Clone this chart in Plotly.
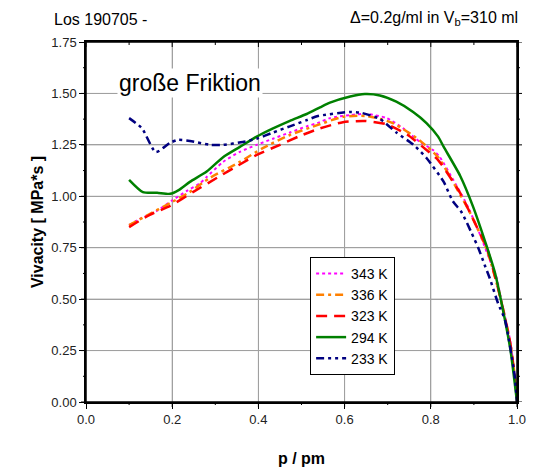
import plotly.graph_objects as go

# 343 K
x_343 = [0.10, 0.125, 0.165, 0.20, 0.234, 0.265, 0.28, 0.318, 0.357, 0.396, 0.434, 0.473, 0.512,
         0.538, 0.566, 0.613, 0.652, 0.698, 0.736, 0.775, 0.805, 0.821, 0.852, 0.884, 0.91, 0.937,
         0.953, 0.96, 0.984, 0.995, 1.0]
y_343 = [0.86, 0.89, 0.93, 0.98, 1.026, 1.064, 1.094, 1.167, 1.216, 1.25, 1.28, 1.31, 1.34,
         1.357, 1.38, 1.395, 1.40, 1.38, 1.33, 1.264, 1.225, 1.19, 1.08, 0.958, 0.836, 0.69,
         0.603, 0.53, 0.30, 0.12, 0.0]

# 336 K
x_336 = [0.10, 0.14, 0.195, 0.24, 0.288, 0.357, 0.41, 0.473, 0.538, 0.596, 0.652, 0.712, 0.775,
         0.817, 0.845, 0.891, 0.93, 0.96, 0.984, 0.995, 1.0]
y_336 = [0.86, 0.905, 0.967, 1.02, 1.09, 1.167, 1.234, 1.298, 1.347, 1.386, 1.39, 1.356, 1.27,
         1.19, 1.094, 0.92, 0.74, 0.52, 0.29, 0.12, 0.0]

# 323 K
x_323 = [0.10, 0.148, 0.195, 0.248, 0.304, 0.353, 0.40, 0.45, 0.496, 0.543, 0.596, 0.647, 0.698,
         0.745, 0.79, 0.817, 0.868, 0.907, 0.93, 0.96, 0.984, 0.995, 1.0]
y_323 = [0.85, 0.91, 0.953, 1.02, 1.09, 1.15, 1.205, 1.25, 1.293, 1.33, 1.36, 1.366, 1.35,
         1.30, 1.225, 1.176, 1.016, 0.85, 0.75, 0.52, 0.29, 0.12, 0.0]

# 294 K
x_294 = [0.10, 0.132, 0.165, 0.195, 0.215, 0.241, 0.28, 0.318, 0.357, 0.396, 0.434, 0.473, 0.512,
         0.543, 0.566, 0.613, 0.647, 0.682, 0.72, 0.759, 0.79, 0.817, 0.83, 0.868, 0.898, 0.93,
         0.949, 0.97, 0.985, 1.0]
y_294 = [1.08, 1.02, 1.017, 1.012, 1.03, 1.07, 1.12, 1.19, 1.24, 1.29, 1.33, 1.367, 1.40,
         1.432, 1.455, 1.485, 1.497, 1.49, 1.46, 1.41, 1.356, 1.29, 1.24, 1.10, 0.95, 0.755,
         0.627, 0.42, 0.25, 0.0]

# 233 K
x_233 = [0.10, 0.13, 0.162, 0.195, 0.213, 0.241, 0.288, 0.318, 0.364, 0.396, 0.434, 0.473, 0.512,
         0.538, 0.613, 0.64, 0.682, 0.72, 0.76, 0.79, 0.83, 0.85, 0.872, 0.895, 0.91, 0.925,
         0.937, 0.956, 0.972, 0.984, 0.995, 1.0]
y_233 = [1.38, 1.33, 1.215, 1.26, 1.274, 1.269, 1.25, 1.25, 1.264, 1.28, 1.31, 1.34, 1.37,
         1.39, 1.41, 1.405, 1.376, 1.31, 1.25, 1.186, 1.07, 0.98, 0.92, 0.82, 0.75, 0.666,
         0.60, 0.48, 0.40, 0.27, 0.12, 0.0]

series = [
    ("343 K", x_343, y_343, "#ff00ff", "dot", 2),
    ("336 K", x_336, y_336, "#ff8000", "8px,4px,3px,4px", 2.5),
    ("323 K", x_323, y_323, "#ff0000", "11px,7px", 2.5),
    ("294 K", x_294, y_294, "#008000", "solid", 2.5),
    ("233 K", x_233, y_233, "#000080", "8px,4px,3px,4px,3px,4px", 2.5),
]

x_major = [0.0, 0.2, 0.4, 0.6, 0.8, 1.0]
x_minor = [0.1, 0.3, 0.5, 0.7, 0.9]
y_major = [0.0, 0.25, 0.5, 0.75, 1.0, 1.25, 1.5, 1.75]
y_minor = [0.125, 0.375, 0.625, 0.875, 1.125, 1.375, 1.625]

fig = go.Figure()
for name, xs, ys, color, dash, width in series:
    fig.add_trace(go.Scatter(x=xs, y=ys, mode="lines", name=name,
                             line=dict(color=color, dash=dash, width=width,
                                       shape="spline", smoothing=0.6)))

axis_common = dict(
    showline=True, linecolor="black", linewidth=1.5, mirror=True,
    ticks="outside", ticklen=5, tickcolor="black", tickwidth=1,
    showgrid=True, gridcolor="#a0a0a0", gridwidth=1,
    zeroline=False, tickfont=dict(family="Arial", size=13, color="#222"),
)

fig.update_xaxes(range=[0, 1.0], tickmode="array", tickvals=x_major, tickformat=".1f",
                 title=dict(text="<b>p / pm</b>", font=dict(family="Arial", size=16, color="black"),
                            standoff=26),
                 **axis_common)
fig.update_yaxes(range=[0, 1.75], tickmode="array", tickvals=y_major, tickformat=".2f",
                 title=dict(text="<b>Vivacity [ MPa*s ]</b>", font=dict(family="Arial", size=16, color="black"),
                            standoff=4),
                 **axis_common)

# grid, frame and ticks as shapes (so they are drawn for sure)
grid = dict(color="#a0a0a0", width=1)
for v in x_major[1:-1]:
    fig.add_shape(type="line", xref="x", yref="paper", x0=v, x1=v, y0=0, y1=1,
                  line=grid, layer="below")
for v in y_major[1:-1]:
    fig.add_shape(type="line", xref="paper", yref="y", x0=0, x1=1, y0=v, y1=v,
                  line=grid, layer="below")

tick = dict(color="black", width=1)
for v, ln in [(v, 5) for v in x_major] + [(v, 3) for v in x_minor]:
    fig.add_shape(type="line", xref="x", yref="paper", ysizemode="pixel", yanchor=0,
                  x0=v, x1=v, y0=0, y1=-ln, line=tick)
    fig.add_shape(type="line", xref="x", yref="paper", ysizemode="pixel", yanchor=1,
                  x0=v, x1=v, y0=0, y1=-ln, line=tick)
for v, ln in [(v, 5) for v in y_major] + [(v, 3) for v in y_minor]:
    fig.add_shape(type="line", xref="paper", yref="y", xsizemode="pixel", xanchor=0,
                  x0=0, x1=-ln, y0=v, y1=v, line=tick)
    fig.add_shape(type="line", xref="paper", yref="y", xsizemode="pixel", xanchor=1,
                  x0=0, x1=ln, y0=v, y1=v, line=tick)
fig.add_shape(type="rect", xref="paper", yref="paper", x0=0, x1=1, y0=0, y1=1,
              line=dict(color="black", width=1.5), layer="above")

fig.add_annotation(x=0.072, y=1.55, xref="x", yref="y", xanchor="left", yanchor="middle",
                   text="große Friktion", showarrow=False, bgcolor="white",
                   font=dict(family="Arial", size=23, color="black"))
fig.add_annotation(x=-0.08, y=1.0, xref="paper", yref="paper", xanchor="left", yanchor="bottom",
                   yshift=12, text="Los 190705 -", showarrow=False,
                   font=dict(family="Arial", size=16, color="black"))
fig.add_annotation(x=1.008, y=1.0, xref="paper", yref="paper", xanchor="right", yanchor="bottom",
                   yshift=12, text="Δ=0.2g/ml in V<sub>b</sub>=310 ml", showarrow=False,
                   font=dict(family="Arial", size=16, color="black"))

fig.update_layout(
    width=554, height=473,
    margin=dict(l=78, r=45, t=34, b=79),
    plot_bgcolor="white", paper_bgcolor="white",
    font=dict(family="Arial"),
    legend=dict(x=0.52, y=0.403, xanchor="left", yanchor="top",
                bgcolor="white", bordercolor="black", borderwidth=1,
                font=dict(family="Arial", size=14, color="black"),
                tracegroupgap=0, itemwidth=30),
)

fig.write_html("out.html")
